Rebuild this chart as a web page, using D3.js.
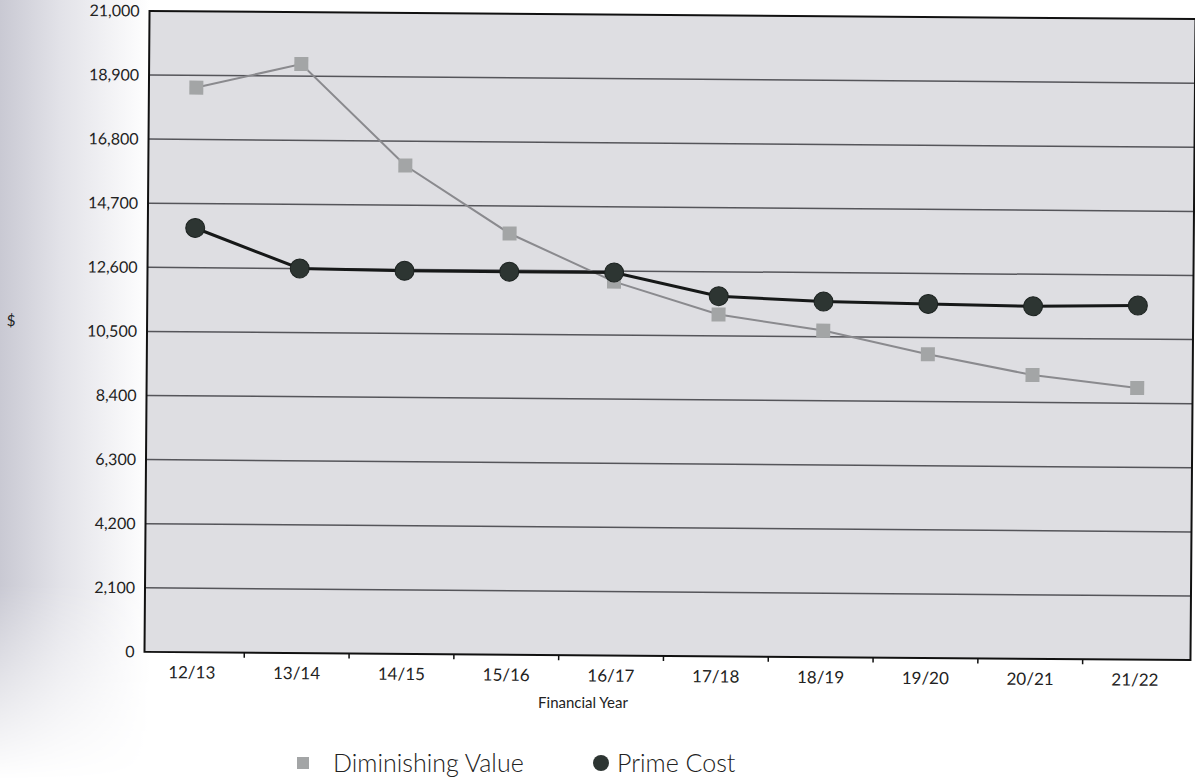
<!DOCTYPE html>
<html>
<head>
<meta charset="utf-8">
<script src="https://cdn.jsdelivr.net/npm/d3@7"></script>
<style>
  html, body { margin: 0; padding: 0; background: #fff; }
  svg { display: block; }
  text { font-family: "Lato", "DejaVu Sans", sans-serif; fill: #222; }
</style>
</head>
<body>
<svg id="chart" width="1195" height="780"></svg>
<script>
const categories = ["12/13","13/14","14/15","15/16","16/17","17/18","18/19","19/20","20/21","21/22"];
const diminishingValue = [18500, 19300, 16000, 13800, 12250, 11200, 10700, 9950, 9300, 8900];
const primeCost = [13900, 12600, 12550, 12550, 12550, 11800, 11650, 11600, 11550, 11600];
const yTicks = [0, 2100, 4200, 6300, 8400, 10500, 12600, 14700, 16800, 18900, 21000];
const yAxisTitle = "$";
const xAxisTitle = "Financial Year";
const seriesNames = ["Diminishing Value", "Prime Cost"];

const W = 1195, H = 780;
const plot = { left: 147, right: 1193, top: 15, bottom: 656 };
const svg = d3.select("#chart");
const defs = svg.append("defs");
const grad = defs.append("linearGradient").attr("id", "scanShade").attr("x1", 0).attr("x2", 1).attr("y1", 0).attr("y2", 0);
grad.append("stop").attr("offset", "0%").attr("stop-color", "#c9c9d3");
grad.append("stop").attr("offset", "40%").attr("stop-color", "#e2e2e8");
grad.append("stop").attr("offset", "100%").attr("stop-color", "#ffffff");
const vgrad = defs.append("linearGradient").attr("id", "fadeDown").attr("x1", 0).attr("x2", 0).attr("y1", 0).attr("y2", 1);
vgrad.append("stop").attr("offset", "0%").attr("stop-color", "#fff").attr("stop-opacity", 1);
vgrad.append("stop").attr("offset", "75%").attr("stop-color", "#fff").attr("stop-opacity", 1);
vgrad.append("stop").attr("offset", "100%").attr("stop-color", "#fff").attr("stop-opacity", 0);
const mask = defs.append("mask").attr("id", "shadeMask");
mask.append("rect").attr("x", 0).attr("y", 0).attr("width", 150).attr("height", H).attr("fill", "url(#fadeDown)");
svg.append("rect").attr("x", 0).attr("y", 0).attr("width", W).attr("height", H).attr("fill", "#ffffff");
svg.append("rect").attr("x", 0).attr("y", 0).attr("width", 150).attr("height", H)
  .attr("fill", "url(#scanShade)").attr("mask", "url(#shadeMask)");

const g = svg.append("g")
  .attr("transform", `rotate(0.45, ${(plot.left + plot.right) / 2}, ${(plot.top + plot.bottom) / 2})`);

const x = d3.scaleBand().domain(categories).range([142, 1190]);
const y = d3.scaleLinear().domain([0, 21000]).range([plot.bottom, plot.top]);

// plot background
g.append("rect")
  .attr("x", plot.left).attr("y", plot.top)
  .attr("width", plot.right - plot.left).attr("height", plot.bottom - plot.top)
  .attr("fill", "#dedee2");

// gridlines
g.append("g").selectAll("line").data(yTicks.filter(d => d > 0 && d < 21000)).join("line")
  .attr("x1", plot.left).attr("x2", plot.right)
  .attr("y1", d => y(d)).attr("y2", d => y(d))
  .attr("stroke", "#55555a").attr("stroke-width", 1.5);

// y axis labels
const yAxis = d3.axisLeft(y).tickValues(yTicks).tickSize(0).tickPadding(10)
  .tickFormat(d3.format(","));
const yg = g.append("g").attr("transform", `translate(${plot.left},0)`).call(yAxis);
yg.select(".domain").remove();
yg.selectAll("text").style("font-size", "16px").attr("fill", "#222").attr("font-family", "Lato, sans-serif");

// x axis
const xAxis = d3.axisBottom(x).tickSize(0).tickPadding(14);
const xg = g.append("g").attr("transform", `translate(0,${plot.bottom})`).call(xAxis);
xg.select(".domain").remove();
xg.selectAll("text").style("font-size", "17px").attr("fill", "#222").attr("font-family", "Lato, sans-serif");
// tick marks at band boundaries
g.append("g").selectAll("line").data(categories.slice(1)).join("line")
  .attr("x1", d => x(d)).attr("x2", d => x(d))
  .attr("y1", plot.bottom).attr("y2", plot.bottom + 5)
  .attr("stroke", "#111").attr("stroke-width", 1.5);

// border
g.append("rect")
  .attr("x", plot.left).attr("y", plot.top)
  .attr("width", plot.right - plot.left).attr("height", plot.bottom - plot.top)
  .attr("fill", "none").attr("stroke", "#111").attr("stroke-width", 2);

const cx = d => x(d) + x.bandwidth() / 2;
const line = d3.line().x(d => cx(d[0])).y(d => y(d[1]));

// Diminishing value
const dvData = categories.map((c, i) => [c, diminishingValue[i]]);
g.append("path").datum(dvData).attr("d", line)
  .attr("fill", "none").attr("stroke", "#8a8a8e").attr("stroke-width", 2);
g.append("g").selectAll("rect").data(dvData).join("rect")
  .attr("x", d => cx(d[0]) - 7).attr("y", d => y(d[1]) - 7)
  .attr("width", 14).attr("height", 14)
  .attr("fill", "#a3a5a6");

// Prime cost
const pcData = categories.map((c, i) => [c, primeCost[i]]);
g.append("path").datum(pcData).attr("d", line)
  .attr("fill", "none").attr("stroke", "#161818").attr("stroke-width", 3);
g.append("g").selectAll("circle").data(pcData).join("circle")
  .attr("cx", d => cx(d[0])).attr("cy", d => y(d[1]))
  .attr("r", 9.5)
  .attr("fill", "#2d3532").attr("stroke", "#1c2220").attr("stroke-width", 1);

// axis titles
svg.append("text").attr("x", 11).attr("y", 326).attr("text-anchor", "middle")
  .style("font-size", "15px").attr("font-family", "DejaVu Serif, serif").text(yAxisTitle);
svg.append("text").attr("x", 583).attr("y", 708).attr("text-anchor", "middle")
  .style("font-size", "15px").text(xAxisTitle);

// legend
const lg = svg.append("g");
lg.append("rect").attr("x", 297).attr("y", 757).attr("width", 12).attr("height", 12).attr("fill", "#a3a5a6");
lg.append("text").attr("x", 333).attr("y", 772).style("font-size", "25px").style("font-weight", 300).text(seriesNames[0]);
lg.append("circle").attr("cx", 601).attr("cy", 763).attr("r", 8).attr("fill", "#2d3532");
lg.append("text").attr("x", 617).attr("y", 772).style("font-size", "25px").style("font-weight", 300).text(seriesNames[1]);
</script>
</body>
</html>
